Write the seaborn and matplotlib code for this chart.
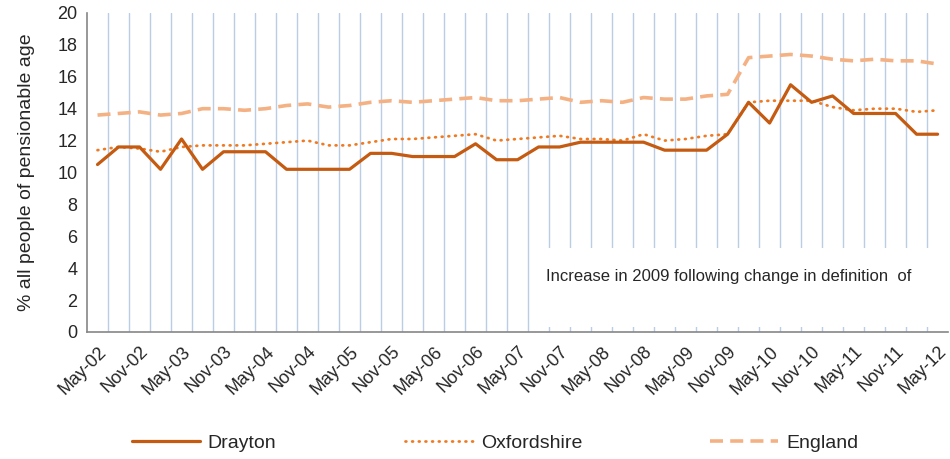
import pandas as pd
import matplotlib
matplotlib.use('Agg')
import matplotlib.pyplot as plt
import seaborn as sns
import numpy as np
from matplotlib.patches import Rectangle

# quarterly data, May-02 to May-12
quarters = ['May-02', 'Aug-02', 'Nov-02', 'Feb-03', 'May-03', 'Aug-03', 'Nov-03', 'Feb-04',
            'May-04', 'Aug-04', 'Nov-04', 'Feb-05', 'May-05', 'Aug-05', 'Nov-05', 'Feb-06',
            'May-06', 'Aug-06', 'Nov-06', 'Feb-07', 'May-07', 'Aug-07', 'Nov-07', 'Feb-08',
            'May-08', 'Aug-08', 'Nov-08', 'Feb-09', 'May-09', 'Aug-09', 'Nov-09', 'Feb-10',
            'May-10', 'Aug-10', 'Nov-10', 'Feb-11', 'May-11', 'Aug-11', 'Nov-11', 'Feb-12',
            'May-12']

drayton = [10.5, 11.6, 11.6, 10.2, 12.1, 10.2, 11.3, 11.3, 11.3, 10.2, 10.2, 10.2, 10.2, 11.2,
           11.2, 11.0, 11.0, 11.0, 11.8, 10.8, 10.8, 11.6, 11.6, 11.9, 11.9, 11.9, 11.9, 11.4,
           11.4, 11.4, 12.4, 14.4, 13.1, 15.5, 14.4, 14.8, 13.7, 13.7, 13.7, 12.4, 12.4]

oxfordshire = [11.4, 11.6, 11.5, 11.3, 11.6, 11.7, 11.7, 11.7, 11.8, 11.9, 12.0, 11.7, 11.7, 11.9,
               12.1, 12.1, 12.2, 12.3, 12.4, 12.0, 12.1, 12.2, 12.3, 12.1, 12.1, 12.0, 12.4, 12.0,
               12.1, 12.3, 12.4, 14.4, 14.5, 14.5, 14.5, 14.1, 13.9, 14.0, 14.0, 13.8, 13.9]

england = [13.6, 13.7, 13.8, 13.6, 13.7, 14.0, 14.0, 13.9, 14.0, 14.2, 14.3, 14.1, 14.2, 14.4,
           14.5, 14.4, 14.5, 14.6, 14.7, 14.5, 14.5, 14.6, 14.7, 14.4, 14.5, 14.4, 14.7, 14.6,
           14.6, 14.8, 14.9, 17.2, 17.3, 17.4, 17.3, 17.1, 17.0, 17.1, 17.0, 17.0, 16.8]

note = 'Increase in 2009 following change in definition  of'

sns.set_style('white')
plt.rcParams['font.family'] = ['Liberation Sans', 'DejaVu Sans']

df = pd.DataFrame({'pos': np.arange(len(quarters)), 'quarter': quarters,
                   'Drayton': drayton, 'Oxfordshire': oxfordshire, 'England': england})

fig = plt.figure(figsize=(9.5, 4.59), dpi=100)
ax = fig.add_axes([0.0916, 0.2767, 0.9064, 0.695])

sns.lineplot(data=df, x='pos', y='Drayton', ax=ax, color='#C55A11', linewidth=2.3,
             label='Drayton', zorder=3)
sns.lineplot(data=df, x='pos', y='Oxfordshire', ax=ax, color='#F07A22', linewidth=2.0,
             linestyle=(0, (0.3, 2.1)), dash_capstyle='round', label='Oxfordshire', zorder=2.5)
sns.lineplot(data=df, x='pos', y='England', ax=ax, color='#F4B183', linewidth=2.6,
             linestyle=(0, (3.6, 2.0)), label='England', zorder=2)

# white box behind the note
ax.add_patch(Rectangle((20.6, 0.3), 21, 4.95, facecolor='white', edgecolor='none',
                       zorder=1, clip_on=True))
ax.text(21.35, 3.5, note, fontsize=12, va='center', ha='left', zorder=1.2)

n = len(quarters)
ax.set_xlim(-0.5, n - 0.5)
ax.set_ylim(0, 20)
ax.set_yticks(np.arange(0, 21, 2))
ax.set_xticks(np.arange(0, n, 2))
ax.set_xticklabels(quarters[::2], rotation=45, ha='right', rotation_mode='anchor')
ax.set_xticks(np.arange(0.5, n - 1, 1), minor=True)
ax.tick_params(axis='x', which='major', length=0, labelsize=13, pad=8)
ax.tick_params(axis='x', which='minor', length=5, color='#868686', width=1)
ax.tick_params(axis='y', length=5, color='#868686', width=1, labelsize=13, pad=2)
ax.set_axisbelow(True)
ax.grid(axis='x', which='minor', color='#B9CDE5', linewidth=1)
ax.grid(axis='y', visible=False)

for s in ['top', 'right']:
    ax.spines[s].set_visible(False)
for s in ['left', 'bottom']:
    ax.spines[s].set_color('#868686')
    ax.spines[s].set_linewidth(1.2)

ax.set_xlabel('')
ax.set_ylabel('% all people of pensionable age', fontsize=14, labelpad=16)

ax.legend(loc='center', bbox_to_anchor=(0.474, -0.348), ncol=3, frameon=False,
          fontsize=14, handlelength=3.5, columnspacing=6.6, handletextpad=0.4)

fig.savefig('out.png', dpi=100)
